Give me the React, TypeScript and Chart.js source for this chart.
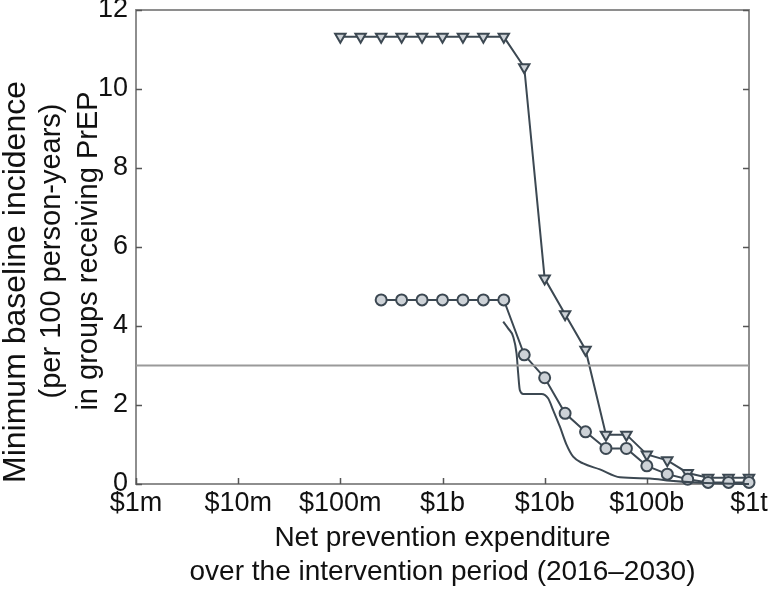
import React, { useEffect, useRef } from 'react';
import { Chart, registerables } from 'chart.js';
Chart.register(...registerables);

// x values: net prevention expenditure in billions of US$
const tickValues = [0.001, 0.01, 0.1, 1, 10, 100, 1000];
const tickLabels = ['$1m', '$10m', '$100m', '$1b', '$10b', '$100b', '$1t'];
const yTicks = [0, 2, 4, 6, 8, 10, 12];
const yTitleLines = ['Minimum baseline incidence', '(per 100 person-years)', 'in groups receiving PrEP'];
const xTitleLines = ['Net prevention expenditure', 'over the intervention period (2016\u20132030)'];

const triX = [0.1, 0.158, 0.251, 0.398, 0.631, 1, 1.585, 2.512, 3.981, 6.31, 10, 15.85, 25.12, 39.81, 63.1, 100, 158.5, 251.2, 398.1, 631, 1000];
const triY = [11.32, 11.32, 11.32, 11.32, 11.32, 11.32, 11.32, 11.32, 11.32, 10.55, 5.2, 4.3, 3.4, 1.25, 1.25, 0.75, 0.6, 0.28, 0.16, 0.16, 0.16];

const circX = [0.251, 0.398, 0.631, 1, 1.585, 2.512, 3.981, 6.31, 10, 15.85, 25.12, 39.81, 63.1, 100, 158.5, 251.2, 398.1, 631, 1000];
const circY = [4.66, 4.66, 4.66, 4.66, 4.66, 4.66, 4.66, 3.27, 2.69, 1.79, 1.32, 0.9, 0.9, 0.46, 0.25, 0.12, 0.04, 0.04, 0.04];

const curveX = [3.93, 4.39, 4.92, 5.31, 5.5, 5.71, 6.17, 9.33, 10.8, 12.1, 14.1, 16.4, 19.0, 23.8, 34.7, 54.5, 107, 170, 331, 1000];
const curveY = [4.11, 3.94, 3.73, 3.3, 2.81, 2.38, 2.28, 2.28, 2.17, 1.87, 1.45, 0.99, 0.69, 0.52, 0.37, 0.17, 0.14, 0.08, 0.03, 0.0];

const refX = [0.001, 1000];
const refY = [3, 3];

const LINE = '#3c4852';
const FILL = '#cdd2d7';
const AXIS = '#8e8e8e';
const FONT = "'Liberation Sans', Arial, Helvetica, sans-serif";

const pts = (xs: number[], ys: number[]) => xs.map((x, i) => ({ x, y: ys[i] }));

const framePlugin = {
  id: 'frame',
  beforeDatasetsDraw(chart: any) {
    const { ctx, chartArea: a, scales } = chart;
    ctx.save();
    ctx.strokeStyle = AXIS;
    ctx.lineWidth = 2;
    ctx.strokeRect(a.left, a.top, a.right - a.left, a.bottom - a.top);
    ctx.lineWidth = 1.5;
    ctx.strokeStyle = '#555';
    ctx.beginPath();
    tickValues.forEach((v) => {
      const px = Math.round(scales.x.getPixelForValue(v)) + 0.5;
      ctx.moveTo(px, a.bottom);
      ctx.lineTo(px, a.bottom - 6);
    });
    yTicks.forEach((v) => {
      const py = Math.round(scales.y.getPixelForValue(v)) + 0.5;
      ctx.moveTo(a.left, py);
      ctx.lineTo(a.left + 6, py);
      ctx.moveTo(a.right, py);
      ctx.lineTo(a.right - 6, py);
    });
    ctx.stroke();
    ctx.restore();
  },
  afterDraw(chart: any) {
    const { ctx } = chart;
    const specs = [
      { x: 16, y: 282, size: 32 },
      { x: 52, y: 251, size: 29 },
      { x: 89, y: 251, size: 29 },
    ];
    ctx.save();
    ctx.fillStyle = '#111';
    ctx.textAlign = 'center';
    ctx.textBaseline = 'middle';
    yTitleLines.forEach((t, i) => {
      const s = specs[i];
      ctx.save();
      ctx.translate(s.x, s.y);
      ctx.rotate(-Math.PI / 2);
      ctx.font = `${s.size}px ${FONT}`;
      ctx.fillText(t, 0, 0);
      ctx.restore();
    });
    ctx.restore();
  },
};

export default function App() {
  const ref = useRef<HTMLCanvasElement>(null);
  useEffect(() => {
    const chart = new Chart(ref.current as HTMLCanvasElement, {
      type: 'line',
      data: {
        datasets: [
          {
            data: pts(refX, refY),
            borderColor: '#9a9a9a',
            borderWidth: 2,
            pointRadius: 0,
            clip: false,
          },
          {
            data: pts(curveX, curveY),
            borderColor: LINE,
            borderWidth: 2,
            pointRadius: 0,
            cubicInterpolationMode: 'monotone',
            clip: false,
          },
          {
            data: pts(circX, circY),
            borderColor: LINE,
            borderWidth: 2,
            pointStyle: 'circle',
            pointRadius: 5.5,
            pointBorderWidth: 2,
            pointBackgroundColor: FILL,
            pointBorderColor: LINE,
            clip: false,
          },
          {
            data: pts(triX, triY),
            borderColor: LINE,
            borderWidth: 2,
            pointStyle: 'triangle',
            pointRotation: 180,
            pointRadius: 6,
            pointBorderWidth: 2,
            pointBackgroundColor: FILL,
            pointBorderColor: LINE,
            clip: false,
          },
        ] as any,
      },
      options: {
        animation: false,
        responsive: false,
        layout: { padding: { top: 10, right: 21, left: 0, bottom: 0 } },
        plugins: { legend: { display: false }, tooltip: { enabled: false } },
        scales: {
          x: {
            type: 'logarithmic',
            min: 0.001,
            max: 1000,
            afterBuildTicks: (s: any) => {
              s.ticks = tickValues.map((v) => ({ value: v }));
            },
            afterFit: (s: any) => {
              s.height = 105;
              s.paddingLeft = 0;
              s.paddingRight = 0;
            },
            grid: { display: false, drawTicks: false },
            border: { display: false },
            ticks: {
              autoSkip: false,
              maxRotation: 0,
              padding: 3,
              color: '#111',
              font: { family: FONT, size: 27 },
              callback: (_v: any, i: number) => tickLabels[i],
            },
            title: {
              display: true,
              text: xTitleLines,
              color: '#111',
              font: { family: FONT, size: 28, lineHeight: '34px' } as any,
              padding: { top: 0, bottom: 0 },
            },
          },
          y: {
            type: 'linear',
            min: 0,
            max: 12,
            afterBuildTicks: (s: any) => {
              s.ticks = yTicks.map((v) => ({ value: v }));
            },
            afterFit: (s: any) => {
              s.width = 136;
              s.paddingTop = 0;
              s.paddingBottom = 0;
            },
            grid: { display: false, drawTicks: false },
            border: { display: false },
            ticks: {
              padding: 8,
              color: '#111',
              font: { family: FONT, size: 27 },
            },
          },
        },
      } as any,
      plugins: [framePlugin],
    });
    return () => chart.destroy();
  }, []);
  return (
    <div style={{ position: 'absolute', left: 0, top: 0, width: 770, height: 589, background: '#fff' }}>
      <canvas ref={ref} width={770} height={589} style={{ display: 'block' }} />
    </div>
  );
}
